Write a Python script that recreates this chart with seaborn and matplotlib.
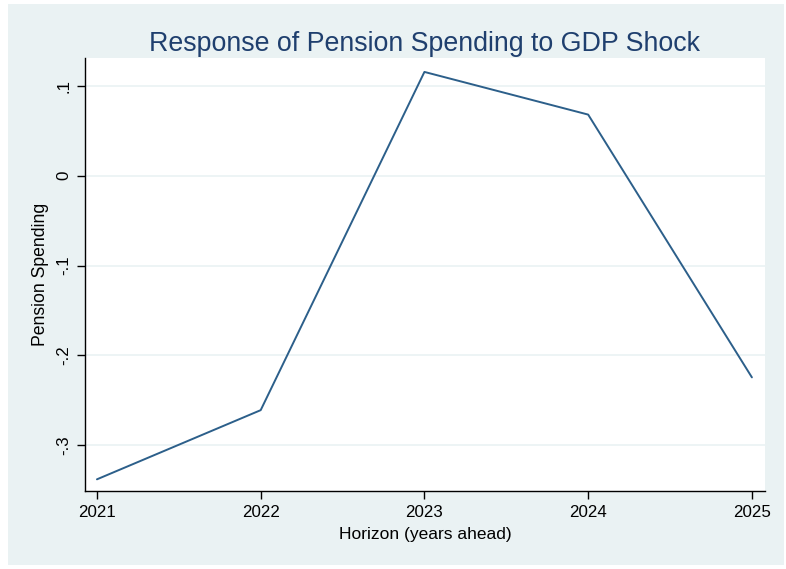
import matplotlib
matplotlib.use("Agg")
import matplotlib.pyplot as plt
import matplotlib.patches as mpatches
import seaborn as sns
import pandas as pd

years = [2021, 2022, 2023, 2024, 2025]
response = [-0.338, -0.261, 0.1155, 0.068, -0.2245]
ytick_vals = [-0.3, -0.2, -0.1, 0.0, 0.1]
ytick_labels = ["-.3", "-.2", "-.1", "0", ".1"]
xtick_labels = ["2021", "2022", "2023", "2024", "2025"]

df = pd.DataFrame({"year": years, "resp": response})

sns.set_theme(style="white")
plt.rcParams["font.family"] = ["Liberation Sans", "DejaVu Sans"]

W, H = 786, 569
fig = plt.figure(figsize=(W / 100, H / 100), dpi=100, facecolor="white")
bg = mpatches.Rectangle((8 / W, 1 - 565 / H), (784 - 8) / W, (565 - 4) / H,
                        transform=fig.transFigure, facecolor="#EAF2F3",
                        edgecolor="none", zorder=-10)
fig.patches.append(bg)

left, right, top, bottom = 85, 765, 58, 491
ax = fig.add_axes([left / W, 1 - bottom / H, (right - left) / W, (bottom - top) / H])
ax.set_zorder(1)
ax.set_facecolor("white")

sns.lineplot(data=df, x="year", y="resp", ax=ax, color="#2c5f8a", linewidth=1.4)

ax.set_xlim(2020.927, 2025.08)
ax.set_ylim(-0.351, 0.131)
ax.set_xticks(years)
ax.set_xticklabels(xtick_labels)
ax.set_yticks(ytick_vals)
ax.set_yticklabels(ytick_labels, rotation=90, va="center")

ax.grid(axis="y", color="#EAF2F3", linewidth=1.2)
ax.grid(axis="x", visible=False)
for s in ["top", "right"]:
    ax.spines[s].set_visible(False)
for s in ["left", "bottom"]:
    ax.spines[s].set_color("black")
    ax.spines[s].set_linewidth(1.0)
ax.tick_params(axis="both", direction="out", length=6, width=1, color="black",
               labelsize=12.2, labelcolor="black", left=True, bottom=True, pad=4)

ax.set_xlabel("Horizon (years ahead)", fontsize=12.5, color="black", labelpad=5)
ax.set_ylabel("Pension Spending", fontsize=12.7, color="black", labelpad=5)
ax.set_title("Response of Pension Spending to GDP Shock", fontsize=19.3,
             color="#1f3f6e", pad=5)

fig.savefig("out.png", dpi=100, facecolor="white")
